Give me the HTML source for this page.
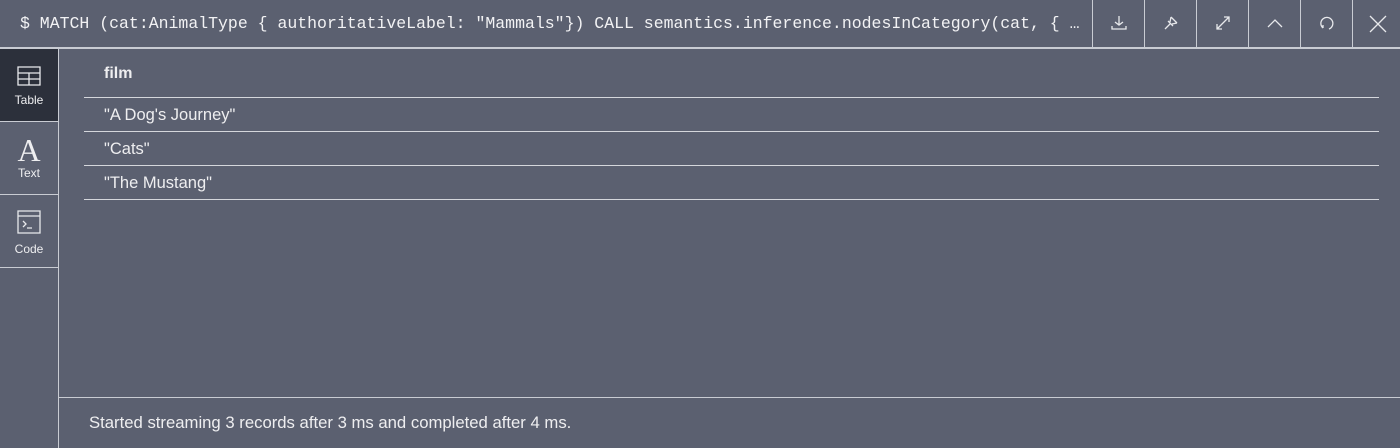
<!DOCTYPE html>
<html><head><style>
body{margin:0;width:1400px;height:448px;background:#5b6070;overflow:hidden;font-family:"Liberation Sans",sans-serif;color:#eeeef0;position:relative}
.a{position:absolute}
.hdr{left:0;top:0;width:1400px;height:47px;border-bottom:2px solid #c9ccd3}
.q{left:20px;top:14px;font-family:"Liberation Mono",monospace;font-size:16.5px;white-space:nowrap;color:#f2f2f4}
.btns{left:1092px;top:0;width:308px;height:47px;background:#5b6070}
.vs{top:0;width:1px;height:47px;background:#c9ccd3}
.side{left:0;top:49px;width:58px;height:399px;border-right:1px solid #c9ccd3}
.tab{left:0;width:58px;height:72px;border-bottom:1px solid #c9ccd3;text-align:center;font-size:12px}
.hl{left:84px;width:1295px;height:1px;background:#d5d7dc}
.cell{left:104px;font-size:16.5px}
svg{stroke:#e8e9ec;fill:none;stroke-width:1.3}
</style></head><body>
<div class="a hdr"></div>
<div class="a q">$ MATCH (cat:AnimalType { authoritativeLabel: "Mammals"}) CALL semantics.inference.nodesInCategory(cat, { …</div>
<div class="a btns"></div>
<div class="a vs" style="left:1092px"></div><div class="a vs" style="left:1144px"></div><div class="a vs" style="left:1196px"></div><div class="a vs" style="left:1248px"></div><div class="a vs" style="left:1300px"></div><div class="a vs" style="left:1352px"></div>
<svg class="a" style="left:1110px;top:14px" width="18" height="18"><path d="M9 2v9M5 8l4 3 4-3M2 12v3h14v-3"/></svg>
<svg class="a" style="left:1162px;top:14px" width="18" height="18"><path d="M3 15l5-5M6 7l5 5M9 3l6 6M9 3l-1 5M15 9l-5 1"/></svg>
<svg class="a" style="left:1214px;top:14px" width="18" height="18"><path d="M3 15l12-12M10 3h5v5M3 10v5h5"/></svg>
<svg class="a" style="left:1266px;top:14px" width="18" height="18"><path d="M2 13l7-7 7 7"/></svg>
<svg class="a" style="left:1318px;top:14px" width="18" height="18"><path d="M5 14a6 6 0 1 1 6 1M5 14v-3"/></svg>
<svg class="a" style="left:1368px;top:14px" width="20" height="20"><path d="M2 2l16 16M18 2L2 18"/></svg>
<div class="a side"></div>
<div class="a tab" style="top:49px;background:#2c303b;height:72px">
<svg style="margin-top:16px" width="28" height="22"><path d="M3 2h22v18H3zM3 8h22M3 14h22M14 8v12"/></svg><div style="margin-top:3px">Table</div></div>
<div class="a tab" style="top:122px"><div style="font-family:'Liberation Serif',serif;font-size:32px;margin-top:12px;line-height:32px">A</div><div style="margin-top:0px">Text</div></div>
<div class="a tab" style="top:195px"><svg style="margin-top:14px" width="26" height="26"><path d="M2 2h22v22H2zM2 7h22M7 12l3 3-3 3M11 19h5"/></svg><div style="margin-top:4px">Code</div></div>
<div class="a" style="left:104px;top:65px;font-weight:bold;font-size:16px">film</div>
<div class="a hl" style="top:97px"></div>
<div class="a cell" style="top:106px">"A Dog's Journey"</div>
<div class="a hl" style="top:131px"></div>
<div class="a cell" style="top:140px">"Cats"</div>
<div class="a hl" style="top:165px"></div>
<div class="a cell" style="top:174px">"The Mustang"</div>
<div class="a hl" style="top:199px"></div>
<div class="a" style="left:59px;top:397px;width:1341px;height:1px;background:#c9ccd3"></div>
<div class="a" style="left:89px;top:413px;font-size:16.7px">Started streaming 3 records after 3 ms and completed after 4 ms.</div>
</body></html>
